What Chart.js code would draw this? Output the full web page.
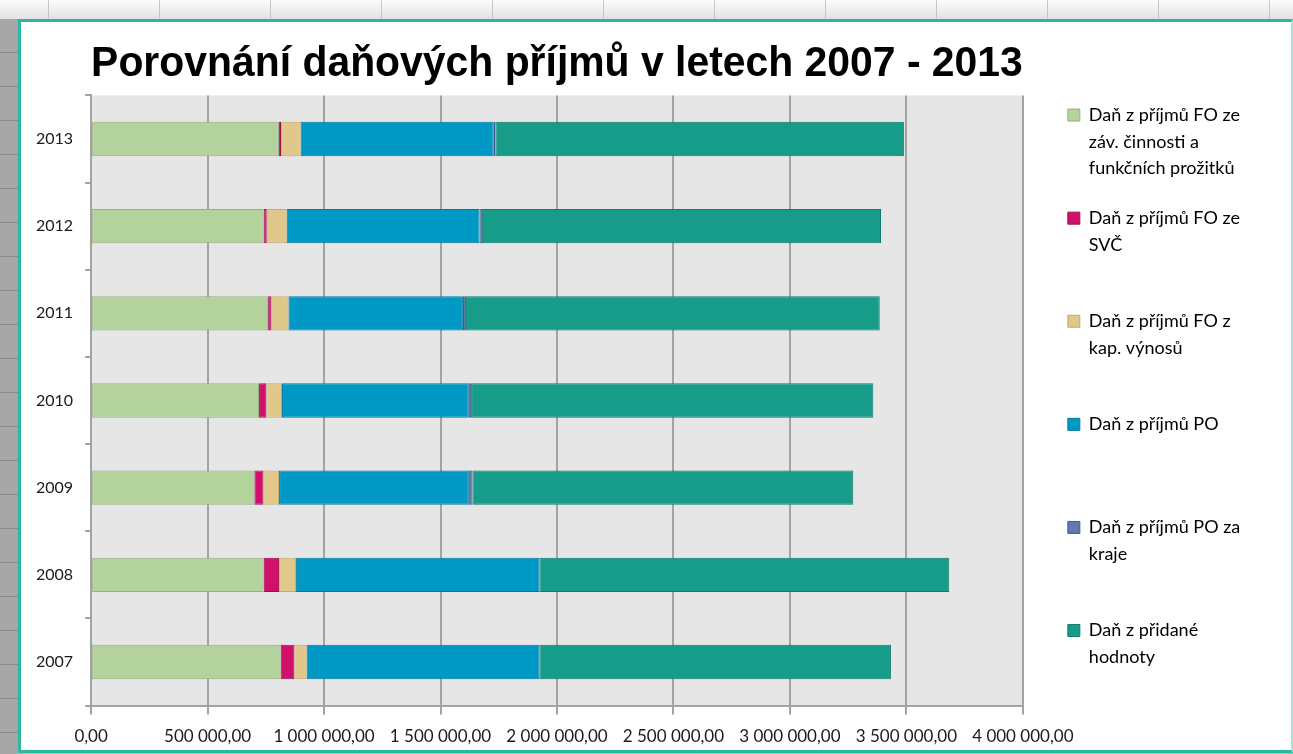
<!DOCTYPE html>
<html>
<head>
<meta charset="utf-8">
<script src="https://cdn.jsdelivr.net/npm/chart.js@4.4.1/dist/chart.umd.min.js"></script>
<style>
  html, body { margin: 0; padding: 0; }
  body { width: 1293px; height: 754px; position: relative; overflow: hidden; background: #b9b9b9; }
  #topstrip {
    position: absolute; left: 0; top: 0; width: 1293px; height: 19px;
    background:
      repeating-linear-gradient(90deg, transparent 0 48px, #c6c6c6 48px 49px, transparent 49px 111px),
      linear-gradient(#fbfbfb, #e2e2e2);
  }
  #leftstrip {
    position: absolute; left: 0; top: 19px; width: 18px; height: 735px;
    background:
      repeating-linear-gradient(180deg, transparent 0 33px, #8c8c8c 33px 34px),
      #a6a6a6;
  }
  #panel {
    position: absolute; left: 18px; top: 19px;
    background: #fff;
    border-top: 3px solid #2bb7a3; border-left: 3px solid #2bb7a3;
    border-bottom: 3px solid #2bb7a3; border-right: 2px solid #a8e1d8;
    box-sizing: border-box; width: 1275px; height: 734px;
  }
  #chart { position: absolute; left: 21px; top: 22px; }
</style>
</head>
<body>
<div id="topstrip"></div>
<div id="leftstrip"></div>
<div id="panel"></div>
<canvas id="chart" width="1268" height="725"></canvas>
<script>
const years = ['2007', '2008', '2009', '2010', '2011', '2012', '2013'];

// values
const foZav   = [813900, 741000, 701000, 721000, 760000, 741000, 807000];
const foSvc   = [58700, 66000, 38600, 31300, 14200, 12900, 8600];
const foKap   = [52700, 72900, 67300, 67300, 72900, 85800, 84000];
const po      = [999100, 1044600, 814700, 801900, 749000, 827600, 829000];
const poKraje = [0, 0, 15400, 9900, 8600, 10300, 7000];
const dph     = [1509400, 1759800, 1635400, 1726800, 1781000, 1713500, 1755000];

const xTicks = [0, 500000, 1000000, 1500000, 2000000, 2500000, 3000000, 3500000, 4000000];

const names = [
    ['Daň z příjmů FO ze', 'záv. činnosti a', 'funkčních prožitků'],
    ['Daň z příjmů FO ze', 'SVČ'],
    ['Daň z příjmů FO z', 'kap. výnosů'],
    ['Daň z příjmů PO'],
    ['Daň z příjmů PO za', 'kraje'],
    ['Daň z přidané', 'hodnoty']
];

const fills   = ['#b4d29c', '#d0106a', '#e0c78a', '#0099c5', '#6278b0', '#169c89'];
const borders = ['#98b083', '#a30c53', '#c2aa70', '#0079a0', '#4a5d91', '#0f7b6c'];

const series = [foZav, foSvc, foKap, po, poKraje, dph];

const fmt = v => Math.round(v).toString().replace(/\B(?=(\d{3})+(?!\d))/g, ' ') + ',00';

const plotBg = {
    id: 'plotBg',
    beforeDraw(c) {
        const a = c.chartArea;
        c.ctx.save();
        c.ctx.fillStyle = '#e6e6e6';
        c.ctx.fillRect(a.left, a.top, a.right - a.left, a.bottom - a.top);
        c.ctx.restore();
    }
};

new Chart(document.getElementById('chart'), {
    type: 'bar',
    data: {
        labels: years,
        datasets: series.map((d, i) => ({
            label: names[i].join(' '),
            data: d,
            backgroundColor: fills[i],
            borderColor: borders[i],
            borderWidth: 1,
            borderSkipped: false,
            barPercentage: 0.394,
            categoryPercentage: 1
        }))
    },
    options: {
        indexAxis: 'y',
        responsive: false,
        animation: false,
        layout: { padding: { left: 3, right: 40, top: 0, bottom: -12 } },
        scales: {
            x: {
                stacked: true,
                min: 0,
                max: 4000000,
                afterBuildTicks: s => { s.ticks = xTicks.map(v => ({ value: v })); },
                grid: { color: '#a3a3a3', lineWidth: 2, tickLength: 9, drawTicks: true },
                border: { display: true, color: '#a3a3a3', width: 2 },
                ticks: {
                    padding: 12,
                    maxRotation: 0,
                    autoSkip: false,
                    color: '#1a1a1a',
                    font: { family: 'Lato', size: 17 },
                    callback: v => fmt(v)
                }
            },
            y: {
                stacked: true,
                reverse: true,
                grid: { offset: true, drawOnChartArea: false, color: '#a3a3a3', lineWidth: 2, tickLength: 6 },
                border: { display: true, color: '#a3a3a3', width: 2 },
                ticks: { padding: 12, color: '#1a1a1a', font: { family: 'Lato', size: 16 } }
            },
            gap: {
                type: 'linear',
                axis: 'y',
                position: 'right',
                grid: { display: false },
                border: { display: false },
                ticks: { display: false },
                afterFit: s => { s.width = 22; }
            }
        },
        plugins: {
            tooltip: { enabled: false },
            title: {
                display: true,
                text: 'Porovnání daňových příjmů v letech 2007 - 2013',
                fullSize: false,
                color: '#000',
                font: { family: '"Liberation Sans", Arial, sans-serif', size: 42, weight: 'bold', lineHeight: 1.2 },
                padding: { top: 17, bottom: 6 }
            },
            legend: {
                position: 'right',
                align: 'center',
                labels: {
                    boxWidth: 12,
                    boxHeight: 12,
                    padding: 23,
                    color: '#1e1e1e',
                    font: { family: 'Lato', size: 18, lineHeight: 26.7 / 18 },
                    generateLabels: c => c.data.datasets.map((ds, i) => {
                        const lines = names[i].slice();
                        if (i < names.length - 1) {
                            while (lines.length < 3) lines.push('');
                        }
                        return {
                            text: lines,
                            fillStyle: fills[i],
                            strokeStyle: borders[i],
                            lineWidth: 1,
                            hidden: false,
                            datasetIndex: i
                        };
                    })
                }
            }
        }
    },
    plugins: [plotBg]
});
</script>
</body>
</html>
